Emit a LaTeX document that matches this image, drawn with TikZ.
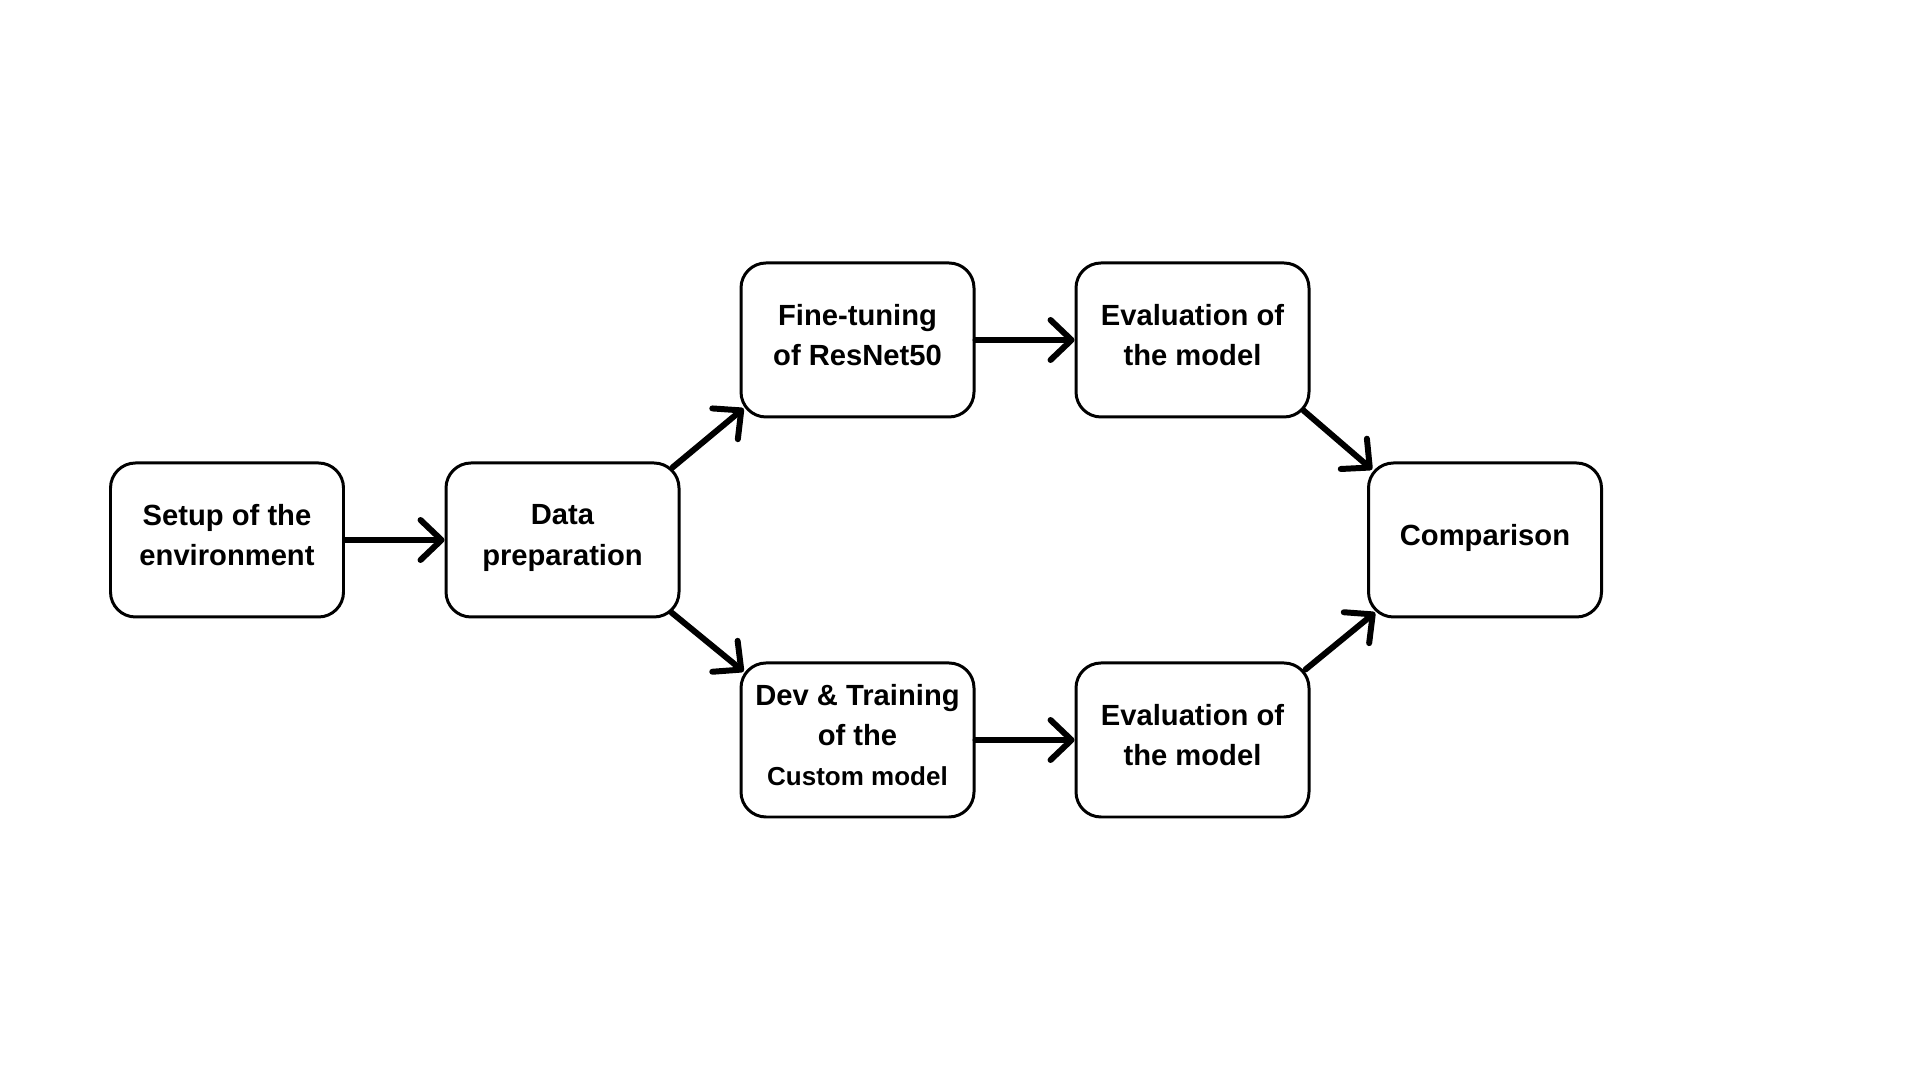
\documentclass[tikz,border=0pt]{standalone}
\usepackage{fontspec}
\setmainfont{Liberation Sans}
\usetikzlibrary{arrows.meta}

\begin{document}
\begin{tikzpicture}[->,>={Straight Barb[length=2.1mm,width=4mm,round]},line width=1.7pt,line cap=round,
                    box node/.style={rectangle,rounded corners=2.5mm,draw,line width=0.85pt,
                    minimum width=2.33cm,minimum height=1.54cm,align=center,text depth=0.1cm,
                    font=\fontsize{8.3}{11.4}\selectfont\bfseries}]
                \useasboundingbox (0,0) rectangle (19.2,10.8);
                \node[box node] (setup) at (2.27,5.4) {Setup of the\\environment};
                \node[box node] (data) [right of=setup, node distance=3.355cm] {Data\\preparation};
                \node[box node] (fine) [right of=data, node distance=2.95cm, yshift=2cm] {Fine-tuning\\of ResNet50};
                \node[box node] (dev) [right of=data, node distance=2.95cm, yshift=-2cm] {Dev \& Training\\of the\\{\fontsize{7.4}{11}\selectfont Custom model}};
                \node[box node] (evalA) [right of=fine, node distance=3.35cm] {Evaluation of\\the model};
                \node[box node] (evalB) [right of=dev, node distance=3.35cm] {Evaluation of\\the model};
                \node[box node] (comp) [right of=evalA, node distance=2.925cm, yshift=-2cm] {Comparison};
                \path
                    (setup) edge (data)
                    (fine) edge (evalA)
                    (dev) edge (evalB)

                    ([shift={(-0.08,-0.06)}]data.north east)
                    edge ([shift={(0.04,0.1)}]fine.south west)
                    ([shift={(-0.09,0.06)}]data.south east)
                    edge ([shift={(0.04,-0.1)}]dev.north west)

                    ([shift={(-0.07,0.08)}]evalA.south east)
                    edge ([shift={(0.05,-0.08)}]comp.north west)
                    ([shift={(-0.05,-0.08)}]evalB.north east)
                    edge ([shift={(0.08,0.06)}]comp.south west);
\end{tikzpicture}
\end{document}
